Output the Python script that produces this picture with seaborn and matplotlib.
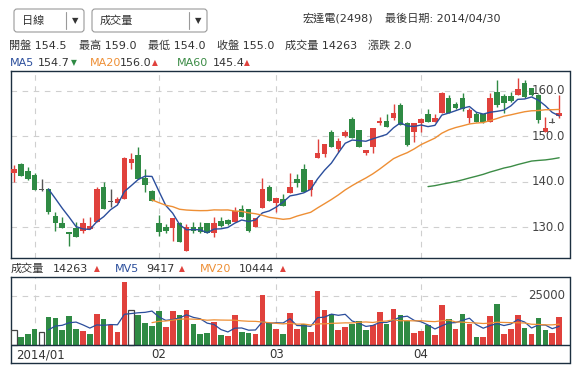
import numpy as np
import pandas as pd
import matplotlib
matplotlib.use('Agg')
import matplotlib.pyplot as plt
import matplotlib.patches as mpatches
import matplotlib.transforms as mtransforms
from matplotlib.lines import Line2D
import seaborn as sns

# Daily candles (2013/12/27 .. 2014/04/30)
opens = [141.8, 143.9, 142.4, 141.5, 138.3, 138.4, 132.5, 130.9, 128.9, 129.9,
         129.2, 129.6, 131.2, 138.8, 135.6, 135.4, 136.2, 144.2, 145.9, 140.7,
         138.0, 130.9, 130.1, 129.9, 131.0, 124.8, 130.0, 130.0, 130.9, 128.7,
         131.4, 131.6, 131.2, 134.0, 134.0, 130.0, 134.3, 138.8, 135.4, 136.2,
         137.4, 140.5, 142.8, 138.2, 145.3, 146.1, 151.0, 147.2, 150.0, 153.8,
         151.4, 146.2, 147.7, 152.8, 153.4, 153.9, 156.9, 153.0, 151.0, 152.8,
         154.9, 153.1, 155.0, 158.3, 157.0, 158.3, 153.9, 154.8, 154.8, 153.2,
         159.8, 158.8, 158.8, 159.1, 161.8, 160.5, 159.1, 150.9, 153.0, 154.5]
highs = [143.7, 144.0, 143.3, 142.0, 140.5, 138.6, 133.3, 132.3, 128.9, 131.2,
         132.0, 132.3, 138.8, 139.9, 138.3, 136.7, 145.5, 146.2, 147.7, 142.7,
         138.2, 132.7, 130.7, 132.1, 131.2, 130.7, 131.1, 131.2, 130.9, 132.3,
         132.3, 131.8, 134.4, 134.9, 134.0, 132.1, 140.7, 139.3, 136.5, 137.3,
         141.8, 141.7, 143.8, 140.4, 149.3, 148.3, 151.4, 149.7, 151.4, 154.3,
         151.4, 147.0, 151.7, 154.2, 154.9, 157.1, 157.2, 153.2, 153.0, 153.9,
         155.9, 154.9, 159.8, 159.1, 157.6, 159.6, 156.3, 155.3, 154.9, 159.6,
         162.4, 159.2, 159.8, 162.7, 162.4, 160.6, 159.3, 154.2, 153.9, 159.0]
lows = [139.9, 141.2, 140.4, 138.1, 138.0, 132.9, 129.2, 129.9, 125.9, 127.9,
        128.7, 129.6, 131.2, 133.9, 134.5, 135.4, 136.2, 142.7, 140.6, 137.8,
        135.8, 128.1, 128.8, 127.0, 126.8, 124.8, 128.7, 128.7, 128.6, 127.9,
        130.1, 130.5, 131.2, 132.3, 128.9, 130.0, 134.3, 135.8, 133.4, 134.7,
        137.4, 138.9, 137.8, 136.9, 145.3, 145.4, 147.7, 146.6, 149.9, 149.7,
        147.7, 145.8, 146.2, 152.5, 152.1, 153.6, 152.5, 147.9, 148.8, 151.0,
        153.2, 153.1, 155.0, 155.2, 155.9, 155.5, 152.8, 153.1, 152.9, 153.2,
        156.5, 155.0, 157.5, 159.0, 158.5, 158.9, 153.0, 150.9, 153.0, 154.0]
closes = [142.7, 141.3, 140.6, 138.2, 138.3, 133.4, 130.9, 129.9, 128.4, 127.9,
          130.9, 130.3, 138.4, 133.9, 135.6, 136.1, 145.1, 144.9, 140.6, 139.3,
          135.8, 128.9, 129.2, 132.1, 126.8, 130.0, 129.2, 128.9, 128.8, 130.9,
          130.3, 130.7, 133.6, 132.3, 129.2, 132.1, 138.4, 135.8, 136.5, 134.7,
          138.9, 139.8, 137.8, 140.4, 146.2, 148.3, 147.7, 149.0, 151.0, 149.7,
          147.7, 147.0, 151.7, 153.4, 152.1, 155.0, 152.5, 148.1, 153.0, 153.7,
          153.2, 153.9, 159.4, 155.2, 156.3, 155.9, 155.8, 153.1, 153.2, 158.3,
          156.9, 157.2, 157.7, 160.4, 158.7, 159.1, 153.6, 151.7, 153.0, 155.0]
volumes = [7600, 4200, 5600, 8100, 6400, 14200, 13700, 7600, 14500, 8100,
           7100, 5600, 15700, 13300, 10100, 6600, 32100, 17700, 15200, 11200,
           9800, 17200, 9100, 17200, 15200, 17900, 10600, 5600, 6100, 11700,
           5100, 4600, 15200, 6600, 6100, 5600, 25400, 11200, 8100, 5600,
           16400, 8100, 10600, 6600, 27500, 17900, 15700, 7600, 9100, 10600,
           12200, 7600, 10100, 16700, 10600, 18300, 15200, 12200, 6100, 7100,
           10100, 5100, 20300, 13200, 8100, 15700, 10600, 4100, 4100, 14700,
           20800, 5600, 8100, 15200, 8600, 5600, 13500, 7700, 6100, 14263]
# volume bar colour vs previous close: r = up, g = down, h = unchanged (hollow)
vol_dirs = list("hggghggggg" "rgrgrrrhgg" "ggrrgrgggr" "grrggrrgrg"
                "rrgrrrgrrg" "ggrrgrggrr" "grrgrgrgrr" "grrrgrggrr")

month_pos = [3, 21, 38, 59]
month_labels = ['2014/01', '02', '03', '04']
price_ticks = [130, 140, 150, 160]
vol_ticks = [25000]

# header texts
stock_name = '宏達電(2498)'
last_date = '最後日期: 2014/04/30'
info_items = [('開盤', '154.5'), ('最高', '159.0'), ('最低', '154.0'),
              ('收盤', '155.0'), ('成交量', '14263'), ('漲跌', '2.0')]
ma_items = [('MA5', '154.7', '▼'), ('MA20', '156.0', '▲'), ('MA60', '145.4', '▲')]
mv_items = [('成交量', '14263', '▲'), ('MV5', '9417', '▲'), ('MV20', '10444', '▲')]

W, H = 585, 371
RED = '#e0413c'
GREEN = '#2f8a44'
DOJI = '#555555'
BLUE = '#2b4e9c'
ORANGE = '#ee8f35'
MAGREEN = '#3c8c46'
GRID = '#cfcfcf'
BORDER = '#1c2f40'
TXT = '#333333'

sns.set_theme(style='white')
plt.rcParams['font.family'] = ['DejaVu Sans', 'Noto Sans CJK TC']

df = pd.DataFrame({'open': opens, 'high': highs, 'low': lows,
                   'close': closes, 'volume': volumes})
df['i'] = np.arange(len(df))

fig = plt.figure(figsize=(W / 100, H / 100), dpi=100)
fig.patch.set_facecolor('white')


def fig_text(x, y, s, color=TXT, size=8, **kw):
    fig.text(x / W, 1 - y / H, s, color=color, fontsize=size,
             va='center', ha='left', **kw)


ax = fig.add_axes([10.5 / W, 1 - 258 / H, 559 / W, 187.3 / H])
axv = fig.add_axes([10.5 / W, 1 - 362.5 / H, 559 / W, 85.8 / H])

# ---- price panel ----
up = df.close > df.open
down = df.close < df.open
ccol = np.where(up, RED, np.where(down, GREEN, DOJI))
ax.vlines(df.i, df.low, df.high, colors=ccol, lw=1, zorder=2)
body = (df.close - df.open).abs()
bottom = np.minimum(df.open, df.close)
flat = body == 0
body = body.where(~flat, 0.22)
bottom = bottom.where(~flat, df.open - 0.11)
ax.bar(df.i, body, bottom=bottom, width=0.8, color=ccol, lw=0, zorder=3)

for n, col in [(5, BLUE), (20, ORANGE), (60, MAGREEN)]:
    ma = df.close.rolling(n).mean()
    ma[df.i < n] = np.nan
    sns.lineplot(x=df.i, y=ma, ax=ax, color=col, lw=1, zorder=4)

for t in price_ticks:
    ax.axhline(t, xmax=0.927, color=GRID, lw=0.8, ls=(0, (5, 5)), zorder=0)
    ax.text(0.992, t, f'{t:.1f}', transform=mtransforms.blended_transform_factory(
        ax.transAxes, ax.transData), ha='right', va='center', fontsize=8.5,
        color='#444444', zorder=5)
for m in month_pos:
    ax.axvline(m, color=GRID, lw=0.8, ls=(0, (5, 5)), zorder=0)

ax.set_xlim(-0.5, 80.5)
ax.set_ylim(123.2, 164.4)

# ---- volume panel ----
vcolor = {'r': RED, 'g': GREEN, 'h': 'white'}
vedge = {'r': RED, 'g': GREEN, 'h': '#444444'}
axv.bar(df.i, df.volume, width=0.82, color=[vcolor[c] for c in vol_dirs],
        edgecolor=[vedge[c] for c in vol_dirs],
        linewidth=[0.9 if c == 'h' else 0 for c in vol_dirs], zorder=3)
for n, col in [(5, BLUE), (20, ORANGE)]:
    mv = df.volume.rolling(n).mean()
    mv[df.i < n] = np.nan
    sns.lineplot(x=df.i, y=mv, ax=axv, color=col, lw=0.9, zorder=4)

vtop, vbot = 34630, -8870
for t in vol_ticks:
    axv.axhline(t, xmax=0.915, color=GRID, lw=0.8, ls=(0, (5, 5)), zorder=0)
    axv.text(0.992, t, f'{t}', transform=mtransforms.blended_transform_factory(
        axv.transAxes, axv.transData), ha='right', va='center', fontsize=8.5,
        color='#444444', zorder=5)
axv.vlines(month_pos, 0, vtop, colors=GRID, lw=0.8, linestyles=(0, (5, 5)), zorder=0)
axv.axhline(0, color=BORDER, lw=1.0, zorder=5)
for m, lab in zip(month_pos, month_labels):
    if lab == month_labels[0]:
        axv.text(0.3, -5000, lab, ha='left', va='center', fontsize=8.5, color=TXT)
    else:
        axv.text(m, -5000, lab, ha='center', va='center', fontsize=8.5, color=TXT)
axv.set_xlim(-0.5, 80.5)
axv.set_ylim(vbot, vtop)

for a in (ax, axv):
    a.set_xticks([])
    a.set_yticks([])
    a.set_xlabel('')
    a.set_ylabel('')
    for sp in a.spines.values():
        sp.set_color(BORDER)
        sp.set_linewidth(1.0)

# ---- header ----
ident = mtransforms.IdentityTransform()
for x0, x1, xdiv, label in [(14, 84, 66, '日線'), (92, 207, 189, '成交量')]:
    box = mpatches.FancyBboxPatch((x0, H - 32), x1 - x0, 23,
                                  boxstyle='round,pad=0,rounding_size=3',
                                  transform=ident, fc='white', ec='#9a9a9a', lw=0.8)
    fig.add_artist(box)
    fig.add_artist(Line2D([xdiv, xdiv], [H - 29, H - 12], transform=ident,
                          color='#9a9a9a', lw=0.8))
    fig_text(x0 + 8, 20.5, label, size=8)
    fig_text(xdiv + 6, 20.5, '▼', size=6)

fig_text(303, 18.5, stock_name, size=8)
fig_text(385, 18.5, last_date, size=8)

info_x = [9, 79, 148, 217, 285, 368]
for x, (k, v) in zip(info_x, info_items):
    fig_text(x, 45.5, f'{k} {v}', size=8)

ma_cols = [BLUE, ORANGE, MAGREEN]
ma_x = [(10, 38, 71), (90, 120, 152), (177, 213, 244)]
for (xl, xv, xa), (k, v, arrow), col in zip(ma_x, ma_items, ma_cols):
    fig_text(xl, 62.5, k, color=col, size=8)
    fig_text(xv, 62.5, v, size=8)
    fig_text(xa, 62.5, arrow, color=GREEN if arrow == '▼' else RED, size=5.5)

mv_cols = [TXT, BLUE, ORANGE]
mv_x = [(11, 53, 94), (115, 146, 179), (200, 239, 280)]
for (xl, xv, xa), (k, v, arrow), col in zip(mv_x, mv_items, mv_cols):
    fig_text(xl, 269, k, color=col, size=8)
    fig_text(xv, 269, v, size=8)
    fig_text(xa, 269, arrow, color=RED, size=5.5)

fig.savefig('out.png', dpi=100)
